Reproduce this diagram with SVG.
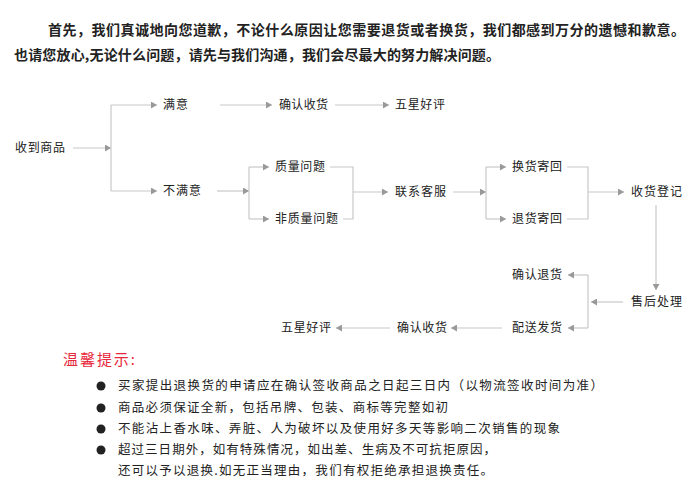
<svg xmlns="http://www.w3.org/2000/svg" width="700" height="500" viewBox="0 0 700 500">
<style>
.top{font-family:"Noto Sans CJK SC","Liberation Sans",sans-serif;font-size:14px;font-weight:bold;fill:#222}
.n{font-family:"Noto Sans CJK SC","Liberation Sans",sans-serif;font-size:12px;fill:#222}
.c{fill:none;stroke:#c8c8c8;stroke-width:1.2}
.tip{font-family:"Noto Sans CJK SC","Liberation Sans",sans-serif;font-size:15px;fill:#e8283c}
.b{font-family:"Noto Sans CJK SC","Liberation Sans",sans-serif;font-size:12.5px;fill:#222}
</style>
<defs>
<marker id="ar" markerUnits="userSpaceOnUse" markerWidth="6" markerHeight="7" refX="6" refY="3.5" orient="auto">
<path d="M0,0 L6,3.5 L0,7 z" fill="#999"/>
</marker>
</defs>
<rect width="700" height="500" fill="#fff"/>
<g id="intro">
<text class="top" x="48" y="35" textLength="637" lengthAdjust="spacing">首先，我们真诚地向您道歉，不论什么原因让您需要退货或者换货，我们都感到万分的遗憾和歉意。</text>
<text class="top" x="14" y="60" textLength="486" lengthAdjust="spacing">也请您放心,无论什么问题，请先与我们沟通，我们会尽最大的努力解决问题。</text>
</g>
<g id="connectors">
<path class="c" d="M73,148 H111" marker-end="url(#ar)"/>
<path class="c" d="M111,105 V191"/>
<path class="c" d="M111,105 H157" marker-end="url(#ar)"/>
<path class="c" d="M111,191 H157" marker-end="url(#ar)"/>
<path class="c" d="M220,105 H272" marker-end="url(#ar)"/>
<path class="c" d="M335,105 H389" marker-end="url(#ar)"/>
<path class="c" d="M217,191 H249" marker-end="url(#ar)"/>
<path class="c" d="M249,167 V219"/>
<path class="c" d="M249,167 H269" marker-end="url(#ar)"/>
<path class="c" d="M249,219 H269" marker-end="url(#ar)"/>
<path class="c" d="M330,167 H353 V219 H343"/>
<path class="c" d="M353,192 H388" marker-end="url(#ar)"/>
<path class="c" d="M453,192 H486" marker-end="url(#ar)"/>
<path class="c" d="M486,167 V219"/>
<path class="c" d="M486,167 H506" marker-end="url(#ar)"/>
<path class="c" d="M486,219 H506" marker-end="url(#ar)"/>
<path class="c" d="M567,167 H588 V219 H567"/>
<path class="c" d="M588,192 H624" marker-end="url(#ar)"/>
<path class="c" d="M656,205 V290" marker-end="url(#ar)"/>
<path class="c" d="M623,302 H591" marker-end="url(#ar)"/>
<path class="c" d="M588,275 V328"/>
<path class="c" d="M588,275 H568" marker-end="url(#ar)"/>
<path class="c" d="M588,328 H568" marker-end="url(#ar)"/>
<path class="c" d="M502,328 H451" marker-end="url(#ar)"/>
<path class="c" d="M390,328 H336" marker-end="url(#ar)"/>
</g>
<g id="n-receive"><text class="n" x="15" y="152" textLength="50">收到商品</text></g>
<g id="n-satisfied"><text class="n" x="163" y="109" textLength="25">满意</text></g>
<g id="n-confirm1"><text class="n" x="279" y="109" textLength="49">确认收货</text></g>
<g id="n-five1"><text class="n" x="395" y="109" textLength="50">五星好评</text></g>
<g id="n-unsatisfied"><text class="n" x="163" y="195" textLength="38">不满意</text></g>
<g id="n-quality"><text class="n" x="275" y="171" textLength="50">质量问题</text></g>
<g id="n-nonquality"><text class="n" x="275" y="223" textLength="63">非质量问题</text></g>
<g id="n-contact"><text class="n" x="395" y="196" textLength="51">联系客服</text></g>
<g id="n-exchange"><text class="n" x="512" y="171" textLength="50">换货寄回</text></g>
<g id="n-return"><text class="n" x="512" y="223" textLength="50">退货寄回</text></g>
<g id="n-register"><text class="n" x="631" y="196" textLength="51">收货登记</text></g>
<g id="n-aftersale"><text class="n" x="631" y="306" textLength="51">售后处理</text></g>
<g id="n-confirmreturn"><text class="n" x="512" y="279" textLength="50">确认退货</text></g>
<g id="n-ship"><text class="n" x="512" y="332" textLength="50">配送发货</text></g>
<g id="n-confirm2"><text class="n" x="397" y="332" textLength="50">确认收货</text></g>
<g id="n-five2"><text class="n" x="281" y="332" textLength="50">五星好评</text></g>
<g id="notes">
<text class="tip" x="63" y="365" textLength="72">温馨提示:</text>
<circle cx="101" cy="386" r="4.5" fill="#222"/>
<circle cx="101" cy="408" r="4.5" fill="#222"/>
<circle cx="101" cy="429" r="4.5" fill="#222"/>
<circle cx="101" cy="450" r="4.5" fill="#222"/>
<text class="b" x="118" y="390" textLength="485">买家提出退换货的申请应在确认签收商品之日起三日内（以物流签收时间为准）</text>
<text class="b" x="118" y="412" textLength="330">商品必须保证全新，包括吊牌、包装、商标等完整如初</text>
<text class="b" x="118" y="433" textLength="442">不能沾上香水味、弄脏、人为破坏以及使用好多天等影响二次销售的现象</text>
<text class="b" x="118" y="454" textLength="378">超过三日期外，如有特殊情况，如出差、生病及不可抗拒原因，</text>
<text class="b" x="118" y="475" textLength="375">还可以予以退换.如无正当理由，我们有权拒绝承担退换责任。</text>
</g>
</svg>
